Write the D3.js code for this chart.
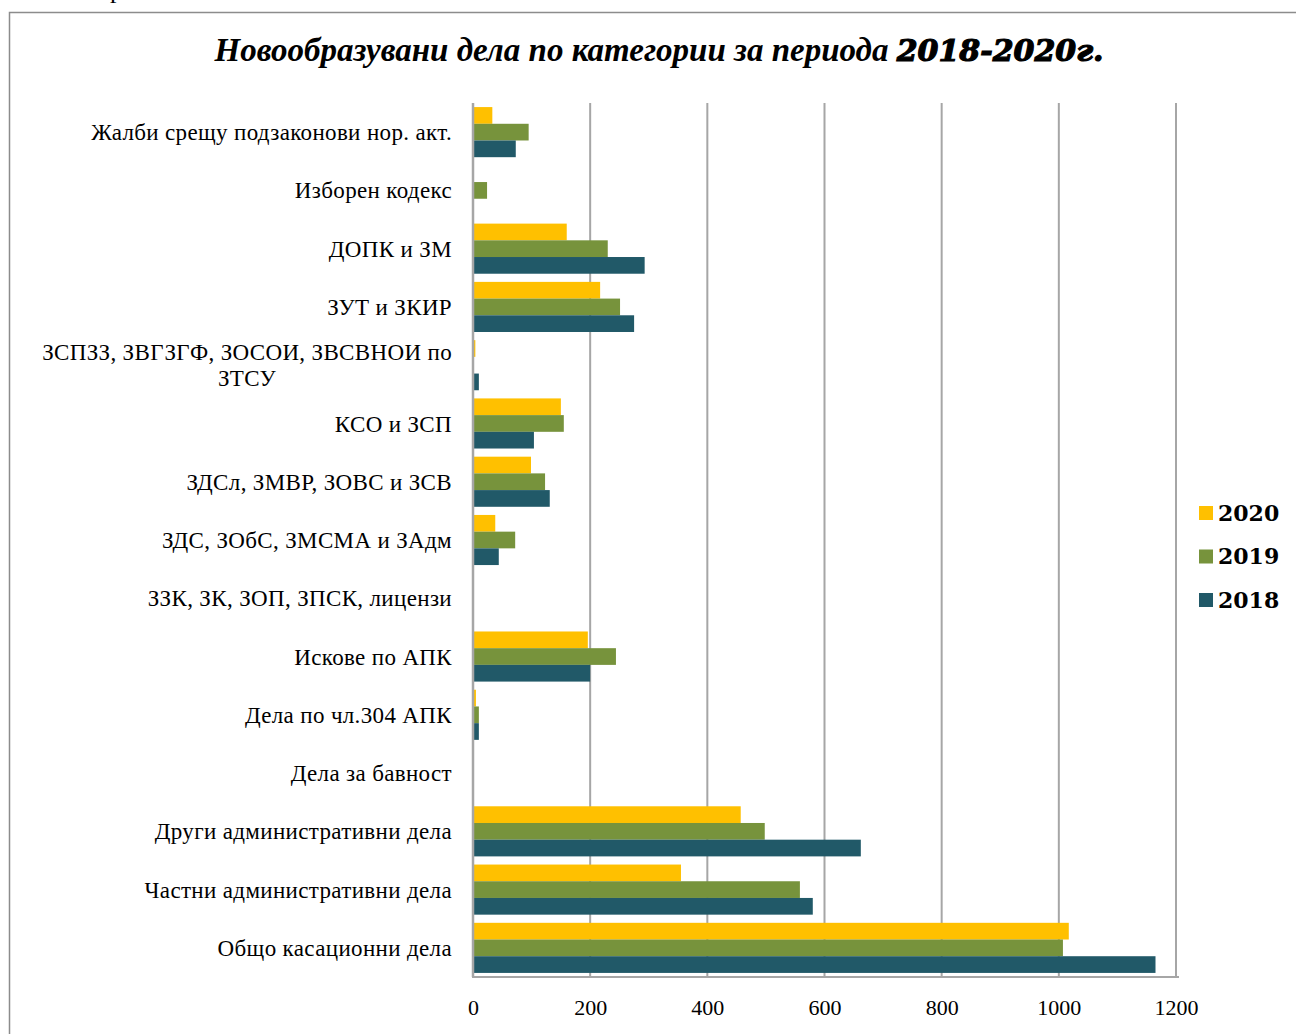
<!DOCTYPE html>
<html lang="bg">
<head>
<meta charset="utf-8">
<title>Новообразувани дела</title>
<script src="https://d3js.org/d3.v7.min.js"></script>
<style>
  body { margin: 0; background: #fff; }
  .cat { font-family: "Liberation Serif", serif; font-size: 23px; letter-spacing: 0.35px; fill: #000; }
  .tick text { font-family: "Liberation Serif", serif; font-size: 22px; fill: #000; }
  .legend text { font-family: "DejaVu Serif", serif; font-weight: bold; font-size: 22px; fill: #000; }
</style>
</head>
<body>
<script>
var width = 1296, height = 1034;

// categories top to bottom
var categories = [
  "Жалби срещу подзаконови нор. акт.",
  "Изборен кодекс",
  "ДОПК и ЗМ",
  "ЗУТ и ЗКИР",
  "ЗСПЗЗ, ЗВГЗГФ, ЗОСОИ, ЗВСВНОИ по|ЗТСУ",
  "КСО и ЗСП",
  "ЗДСл, ЗМВР, ЗОВС и ЗСВ",
  "ЗДС, ЗОбС, ЗМСМА и ЗАдм",
  "ЗЗК, ЗК, ЗОП, ЗПСК, лицензи",
  "Искове по АПК",
  "Дела по чл.304 АПК",
  "Дела за бавност",
  "Други административни дела",
  "Частни административни дела",
  "Общо касационни дела"
];

var years = ["2020", "2019", "2018"];
var colors = ["#ffc000", "#77933c", "#215968"];

var values2020 = [33, 0, 160, 217, 4, 150, 99, 38, 0, 196, 5, 0, 457, 355, 1017];
var values2019 = [95, 24, 230, 251, 1, 155, 123, 72, 0, 244, 10, 0, 498, 558, 1007];
var values2018 = [73, 0, 293, 275, 10, 104, 131, 44, 0, 200, 10, 0, 662, 580, 1165];

var xTicks = [0, 200, 400, 600, 800, 1000, 1200];

var series = [values2020, values2019, values2018];

var svg = d3.select("body").append("svg")
    .attr("width", width)
    .attr("height", height);

// outer frame
svg.append("rect")
    .attr("x", 9.5).attr("y", 12.5)
    .attr("width", 1300).attr("height", 1040)
    .attr("fill", "none")
    .attr("stroke", "#8c8c8c")
    .attr("stroke-width", 1.5);

// stray letter from the page above
svg.append("text")
    .attr("x", 110).attr("y", -2)
    .attr("font-family", "Liberation Serif, serif")
    .attr("font-size", 26)
    .text("р");

// title
var title = svg.append("text")
    .attr("x", 659).attr("y", 61)
    .attr("text-anchor", "middle")
    .attr("font-family", "Liberation Serif, serif")
    .attr("font-style", "italic")
    .attr("font-weight", "bold")
    .attr("font-size", 33);
title.append("tspan").text("Новообразувани дела по категории за периода ");
title.append("tspan")
    .attr("font-family", "DejaVu Serif, serif")
    .attr("font-weight", "900")
    .attr("stroke", "#000").attr("stroke-width", 1.2)
    .attr("font-size", 30)
    .text("2018-2020г.");

var mLeft = 473, mRight = 1176, mTop = 103, mBottom = 977;

var x = d3.scaleLinear().domain([0, 1200]).range([mLeft, mRight]);
var y = d3.scaleBand().domain(d3.range(categories.length))
    .range([mTop, mBottom]).paddingInner(0.14).paddingOuter(0.07);
var ySub = d3.scaleBand().domain(years).range([0, y.bandwidth()]);

// gridlines
svg.append("g").selectAll("line")
    .data(xTicks.slice(1))
    .enter().append("line")
    .attr("x1", d => x(d)).attr("x2", d => x(d))
    .attr("y1", mTop).attr("y2", mBottom)
    .attr("stroke", "#a6a6a6").attr("stroke-width", 2);

// bars
years.forEach(function(yr, i) {
  svg.append("g").selectAll("rect")
      .data(series[i])
      .enter().append("rect")
      .attr("x", x(0))
      .attr("y", (d, j) => y(j) + ySub(yr))
      .attr("width", d => x(d) - x(0))
      .attr("height", ySub.bandwidth())
      .attr("fill", colors[i]);
});

// axis lines
svg.append("line")
    .attr("x1", x(0)).attr("x2", x(0))
    .attr("y1", mTop).attr("y2", mBottom)
    .attr("stroke", "#a6a6a6").attr("stroke-width", 2.5);
svg.append("line")
    .attr("x1", x(0) - 1).attr("x2", mRight + 3)
    .attr("y1", mBottom).attr("y2", mBottom)
    .attr("stroke", "#a6a6a6").attr("stroke-width", 2);

// x axis labels
var xAxis = d3.axisBottom(x).tickValues(xTicks).tickFormat(d3.format("d"))
    .tickSize(0).tickPadding(22);
var gx = svg.append("g")
    .attr("transform", "translate(0," + mBottom + ")")
    .call(xAxis);
gx.select(".domain").remove();
gx.selectAll("text").attr("font-family", null).attr("font-size", null);

// category labels
var labelX = 452;
categories.forEach(function(c, i) {
  var lines = c.split("|");
  var cy = y(i) + y.bandwidth() / 2;
  if (lines.length === 1) {
    svg.append("text").attr("class", "cat")
        .attr("x", labelX).attr("y", cy)
        .attr("dy", "0.35em")
        .attr("text-anchor", "end")
        .text(lines[0]);
  } else {
    var t = svg.append("text").attr("class", "cat")
        .attr("y", cy - 13).attr("text-anchor", "middle");
    lines.forEach(function(l, k) {
      t.append("tspan").attr("y", cy - 13 + k * 26).attr("dy", "0.35em").text(l);
    });
    var w = d3.max(t.selectAll("tspan").nodes(), n => n.getComputedTextLength());
    t.selectAll("tspan").attr("x", labelX - w / 2);
  }
});

// legend
var legend = svg.append("g").attr("class", "legend");
years.forEach(function(yr, i) {
  var ly = 513 + i * 43.5;
  legend.append("rect")
      .attr("x", 1199).attr("y", ly - 7)
      .attr("width", 14).attr("height", 14)
      .attr("fill", colors[i]);
  legend.append("text")
      .attr("x", 1218).attr("y", ly)
      .attr("dy", "0.35em")
      .text(yr);
});
</script>
</body>
</html>
